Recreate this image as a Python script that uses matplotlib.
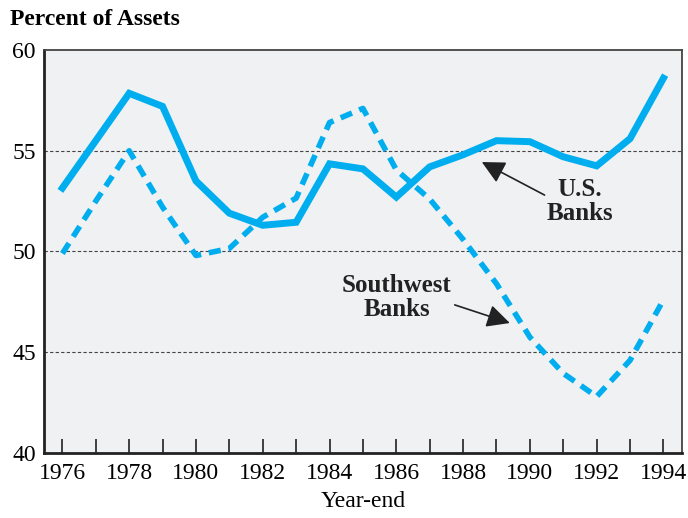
import matplotlib
matplotlib.use("Agg")
import matplotlib.pyplot as plt

years = list(range(1976, 1995))
us_banks = [53.15, 55.5, 57.85, 57.2, 53.5, 51.9, 51.3, 51.45, 54.35, 54.1, 52.7, 54.2, 54.8, 55.5, 55.45, 54.7, 54.25, 55.6, 58.6]
southwest_banks = [49.9, 52.5, 55.0, 52.2, 49.8, 50.15, 51.7, 52.65, 56.4, 57.1, 54.05, 52.6, 50.6, 48.4, 45.75, 43.95, 42.8, 44.6, 47.6]
xtick_labels = [str(y) for y in range(1976, 1995, 2)]
yticks = [40, 45, 50, 55, 60]

plt.rcParams['font.family'] = ['Liberation Serif', 'DejaVu Serif']
color = '#00AEEF'

fig = plt.figure(figsize=(6.88, 5.18), dpi=100)
ax = fig.add_axes([0.064, 0.1255, 0.927, 0.778])
ax.set_facecolor('#F0F1F3')

for yv in [45, 50, 55]:
    ax.axhline(yv, color='#444444', lw=0.8, ls=(0, (3, 2)), zorder=1)

ax.plot(years, us_banks, color=color, lw=5, solid_joinstyle='miter', zorder=3)
ax.plot(years, southwest_banks, color=color, lw=4, ls=(0, (2.2, 1.4)), zorder=3)

ax.set_xlim(1975.45, 1994.55)
ax.set_ylim(40, 60)
ax.set_yticks(yticks)
ax.set_yticklabels([str(v) for v in yticks], fontsize=17)
ax.set_xticks(years)
ax.set_xticklabels([str(y) if y % 2 == 0 else '' for y in years], fontsize=17)
ax.tick_params(axis='x', direction='in', length=10, width=1.2, color='#222222', pad=7)
ax.tick_params(axis='y', length=0, pad=6)

for s in ['left', 'bottom']:
    ax.spines[s].set_linewidth(2)
    ax.spines[s].set_color('#222222')
for s in ['top', 'right']:
    ax.spines[s].set_linewidth(1.3)
    ax.spines[s].set_color('#444444')

ax.set_xlabel('Year-end', fontsize=17, labelpad=5)
fig.text(0.014, 0.962, 'Percent of Assets', fontsize=17, fontweight='bold', ha='left', va='center')

arrow_style = dict(arrowstyle='-|>,head_length=0.7,head_width=0.35', color='#222222', lw=1.2,
                   mutation_scale=20, shrinkA=0, shrinkB=0)
ax.text(1991.5, 52.5, 'U.S.\nBanks', fontsize=18, fontweight='bold', ha='center', va='center',
        linespacing=1.05, color='#222222')
ax.annotate('', xy=(1988.56, 54.44), xytext=(1990.44, 52.8), arrowprops=arrow_style)
ax.text(1986.02, 47.7, 'Southwest\nBanks', fontsize=18, fontweight='bold', ha='center', va='center',
        linespacing=1.05, color='#222222')
ax.annotate('', xy=(1989.4, 46.45), xytext=(1987.75, 47.35), arrowprops=arrow_style)

fig.savefig('out.png', dpi=100)
